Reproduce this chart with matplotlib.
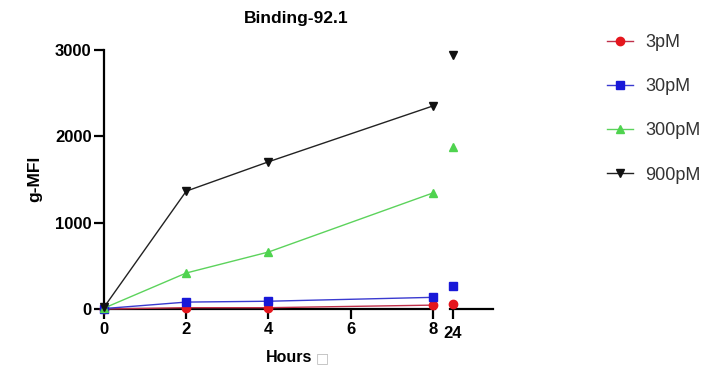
import matplotlib
matplotlib.use("Agg")
import matplotlib.pyplot as plt
from matplotlib.lines import Line2D

plt.rcParams['font.family'] = ['Liberation Sans', 'DejaVu Sans']

# Time points (hours) for the connected segment and the late 24 h reading
hours_early = [0, 2, 4, 8]
hours_late = [24]

labels = ['3pM', '30pM', '300pM', '900pM']
mfi_early = {
    '3pM':   [0, 15, 15, 45],
    '30pM':  [5, 80, 90, 135],
    '300pM': [10, 417, 660, 1344],
    '900pM': [20, 1365, 1705, 2352],
}
mfi_late = {
    '3pM':   [60],
    '30pM':  [265],
    '300pM': [1880],
    '900pM': [2945],
}

colors = {'3pM': '#e5161d', '30pM': '#1818d8', '300pM': '#4fd34f', '900pM': '#111111'}
line_colors = {'3pM': '#c0304a', '30pM': '#3a3ad0', '300pM': '#5cd35c', '900pM': '#222222'}
markers = {'3pM': 'o', '30pM': 's', '300pM': '^', '900pM': 'v'}

W, H = 714, 377
fig = plt.figure(figsize=(W / 100, H / 100), dpi=100)

y0_px, y1_px = 309, 50
bottom = 1 - y0_px / H
height = (y0_px - y1_px) / H

ax1 = fig.add_axes([104 / W, bottom, (435 - 104) / W, height])
ax2 = fig.add_axes([450 / W, bottom, (493 - 450) / W, height])

for lab in labels:
    ax1.plot(hours_early, mfi_early[lab], color=line_colors[lab], lw=1.0,
             marker=markers[lab], ms=6, mfc=colors[lab], mec=colors[lab],
             clip_on=False, zorder=3)
    ax2.plot(hours_late, mfi_late[lab], linestyle='none',
             marker=markers[lab], ms=6, mfc=colors[lab], mec=colors[lab],
             clip_on=False, zorder=3)

ax1.set_xlim(0, 8.05)
ax2.set_xlim(23.927, 24.973)
for ax in (ax1, ax2):
    ax.set_ylim(0, 3000)
    ax.spines['top'].set_visible(False)
    ax.spines['right'].set_visible(False)
    ax.spines['bottom'].set_linewidth(1.6)
    ax.spines['left'].set_linewidth(1.6)
    ax.tick_params(width=1.6, length=7, labelsize=12, direction='out', pad=2)
    ax.patch.set_alpha(0)

ax1.set_xticks([0, 2, 4, 6, 8])
ax1.set_yticks([0, 1000, 2000, 3000])
ax2.set_xticks([24])
ax2.set_yticks([])
ax2.spines['left'].set_visible(False)
for ax in (ax1, ax2):
    for t in ax.get_xticklabels() + ax.get_yticklabels():
        t.set_fontweight('bold')
ax2.tick_params(axis='x', pad=5)

fig.text(296 / W, 1 - 18 / H, 'Binding-92.1', ha='center', va='center',
         fontsize=12.5, fontweight='bold')
fig.text(35 / W, 1 - 179 / H, 'g-MFI', ha='center', va='center',
         rotation=90, fontsize=12.5, fontweight='bold')
fig.text(312 / W, 1 - 357 / H, 'Hours', ha='right', va='center',
         fontsize=11.5, fontweight='bold')
fig.text(316 / W, 1 - 358 / H, '\u25a1', ha='left', va='center',
         fontsize=10, color='#bbbbbb', family='DejaVu Sans')

handles = [Line2D([0], [0], color=line_colors[l], lw=1.0, marker=markers[l],
                  ms=6, mfc=colors[l], mec=colors[l]) for l in labels]
fig.legend(handles, labels, loc='upper left', bbox_to_anchor=(591 / W, 1 - 18 / H),
           frameon=False, fontsize=13, labelspacing=1.5, handlelength=1.4,
           handletextpad=0.7, labelcolor='#333333')

fig.savefig('out.png', dpi=100)
